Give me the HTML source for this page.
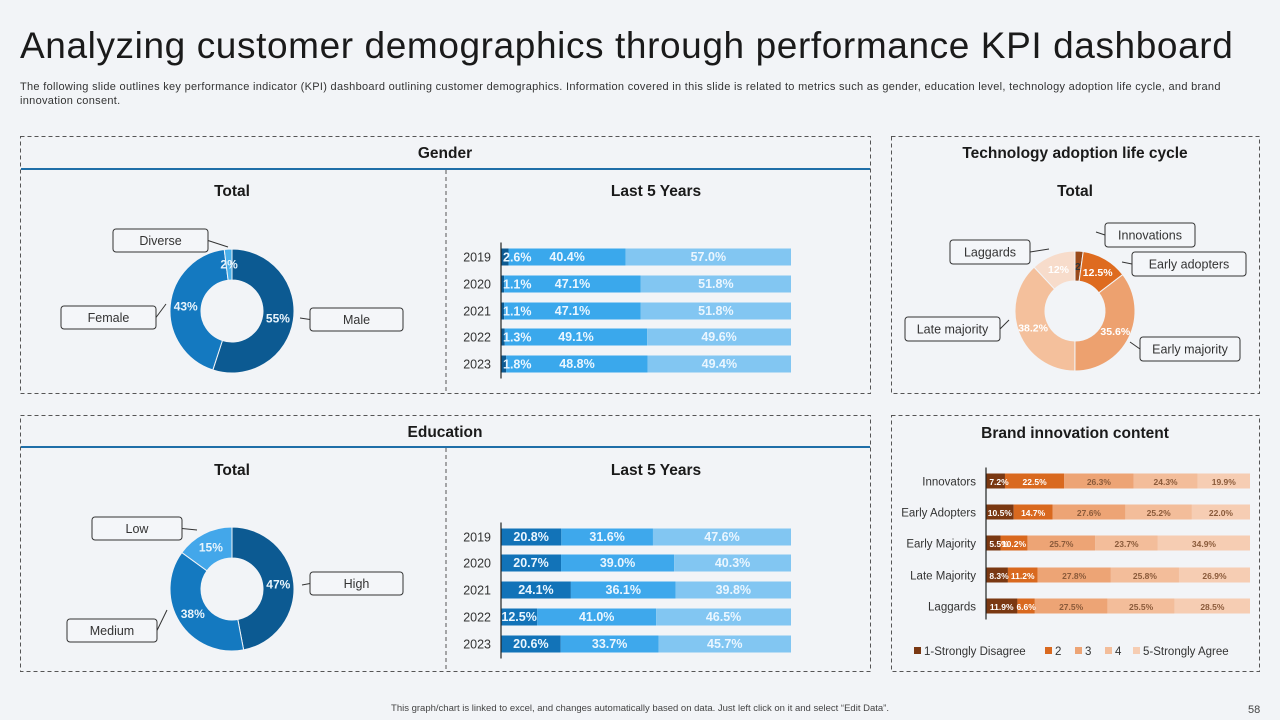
<!DOCTYPE html>
<html><head><meta charset="utf-8">
<style>
body{margin:0;width:1280px;height:720px;background:#f2f4f7;font-family:"Liberation Sans",sans-serif;overflow:hidden;position:relative}
.t{position:absolute;left:20px;top:25px;font-size:37px;color:#1a1a1a;letter-spacing:0.6px;white-space:nowrap}
.s{position:absolute;left:20px;top:80px;width:1245px;font-size:11px;letter-spacing:0.3px;color:#333;line-height:14px}
.f{position:absolute;top:703px;left:0;width:1280px;text-align:center;font-size:9.5px;color:#444}
.pn{position:absolute;top:704px;left:1248px;font-size:11px;color:#444}
svg{position:absolute;left:0;top:0}
</style></head><body>
<div class="t">Analyzing customer demographics through performance KPI dashboard</div>
<div class="s">The following slide outlines key performance indicator (KPI) dashboard outlining customer demographics. Information covered in this slide is related to metrics such as gender, education level, technology adoption life cycle, and brand innovation consent.</div>
<div class="f">This graph/chart is linked to excel, and changes automatically based on data. Just left click on it and select “Edit Data”.</div>
<div class="pn">58</div>
<svg id="c" width="1280" height="720" font-family="Liberation Sans, sans-serif"></svg>
<script>
// Data
const genderLabels=["Male","Female","Diverse"];
const genderTotal=[55,43,2];
const years=["2019","2020","2021","2022","2023"];
const genderDiverse=[2.6,1.1,1.1,1.3,1.8];
const genderFemale=[40.4,47.1,47.1,49.1,48.8];
const genderMale=[57.0,51.8,51.8,49.6,49.4];
const eduLabels=["High","Medium","Low"];
const eduTotal=[47,38,15];
const eduHigh=[20.8,20.7,24.1,12.5,20.6];
const eduMed=[31.6,39.0,36.1,41.0,33.7];
const eduLow=[47.6,40.3,39.8,46.5,45.7];
const techLabels=["Innovations","Early adopters","Early majority","Late majority","Laggards"];
const techTotal=[2.2,12.5,35.6,38.2,12];
const techText=["2.2%","12.5%","35.6%","38.2%","12%"];
const brandCats=["Innovators","Early Adopters","Early Majority","Late Majority","Laggards"];
const brand1=[7.2,10.5,5.5,8.3,11.9];
const brand2=[22.5,14.7,10.2,11.2,6.6];
const brand3=[26.3,27.6,25.7,27.8,27.5];
const brand4=[24.3,25.2,23.7,25.8,25.5];
const brand5=[19.9,22.0,34.9,26.9,28.5];
const brandLegend=["1-Strongly Disagree","2","3","4","5-Strongly Agree"];

const svg=document.getElementById('c');
const NS="http://www.w3.org/2000/svg";
function el(tag,attrs,parent){const e=document.createElementNS(NS,tag);for(const k in attrs)e.setAttribute(k,attrs[k]);(parent||svg).appendChild(e);return e;}
function txt(x,y,s,size,fill,anchor,weight){const e=el('text',{x:x,y:y,'font-size':size,fill:fill,'text-anchor':anchor||'start','font-weight':weight||'normal'});e.textContent=s;return e;}

// Panels
function panel(x,y,w,h,name){const r=el('rect',{x:x,y:y,width:w,height:h,fill:'none',stroke:'#555','stroke-dasharray':'4,3','stroke-width':1});

}
panel(20.5,136.5,850,257,'gender-panel');
panel(891.5,136.5,368,257,'tech-panel');
panel(20.5,415.5,850,256,'education-panel');
panel(891.5,415.5,368,256,'brand-panel');
el('line',{x1:21,y1:169,x2:870,y2:169,stroke:'#1f6fa8','stroke-width':2});
el('line',{x1:21,y1:447,x2:870,y2:447,stroke:'#1f6fa8','stroke-width':2});
el('line',{x1:446,y1:170,x2:446,y2:393,stroke:'#555','stroke-dasharray':'4,3'});
el('line',{x1:446,y1:448,x2:446,y2:671,stroke:'#555','stroke-dasharray':'4,3'});
[[445,158,'Gender','gender-title'],[1075,158,'Technology adoption life cycle','tech-title'],[445,437,'Education','education-title'],[1075,438,'Brand innovation content','brand-title'],
 [232,196,'Total','gender-total-title'],[656,196,'Last 5 Years','gender-years-title'],[1075,196,'Total','tech-total-title'],
 [232,475,'Total','education-total-title'],[656,475,'Last 5 Years','education-years-title']].forEach(a=>{const t=txt(a[0],a[1],a[2],15.5,'#1a1a1a','middle','bold');

});

// Donut
function donut(cx,cy,R,r,vals,colors,labels,labelColors,name,sizes){
 const tot=vals.reduce((a,b)=>a+b,0);let a0=-Math.PI/2;
 vals.forEach((v,i)=>{const a1=a0+v/tot*2*Math.PI;const lg=(a1-a0)>Math.PI?1:0;
  const p=(a,rr)=>[cx+rr*Math.cos(a),cy+rr*Math.sin(a)];
  const [x0,y0]=p(a0,R),[x1,y1]=p(a1,R),[x2,y2]=p(a1,r),[x3,y3]=p(a0,r);
  const s=el('path',{d:`M${x0},${y0}A${R},${R} 0 ${lg} 1 ${x1},${y1}L${x2},${y2}A${r},${r} 0 ${lg} 0 ${x3},${y3}Z`,fill:colors[i],stroke:'#f2f4f7','stroke-width':1});
  
  
  const m=(a0+a1)/2;const [lx,ly]=p(m,(R+r)/2);
  txt(lx,ly+4,labels[i],sizes||12,labelColors[i],'middle','bold');
  a0=a1;});
}
donut(232,311,62,31,genderTotal,['#0c5a92','#1479c0','#4ab0ea'],genderTotal.map(v=>v+'%'),['#e8f4fc','#e8f4fc','#e8f4fc'],'gender-donut');
donut(232,589,62,31,eduTotal,['#0c5a92','#1479c0','#43a7ea'],eduTotal.map(v=>v+'%'),['#e8f4fc','#e8f4fc','#e8f4fc'],'education-donut');
donut(1075,311,60,30,techTotal,['#9a4a1a','#de6b1f','#eda16f','#f4c09c','#f7dccb'],techText,['#333','#fff','#fff','#fff','#fff'],'tech-donut',10.5);

// Callouts
function callout(x,y,w,h,label,tx,ty,name){
 const g=el('g',{});
 el('rect',{x:x,y:y,width:w,height:h,rx:3,fill:'#f4f6f9',stroke:'#333','stroke-width':1},g);
 el('line',{x1:tx,y1:ty,x2:(tx<x?x:(tx>x+w?x+w:x+w/2)),y2:y+h/2,stroke:'#333','stroke-width':1},g);
 const t=txt(x+w/2,y+h/2+4.5,label,12.5,'#333','middle');g.appendChild(t);
}
callout(113,229,95,23,'Diverse',228,247,'callout-diverse');
callout(61,306,95,23,'Female',166,304,'callout-female');
callout(310,308,93,23,'Male',300,318,'callout-male');
callout(92,517,90,23,'Low',197,530,'callout-low');
callout(310,572,93,23,'High',302,585,'callout-high');
callout(67,619,90,23,'Medium',167,610,'callout-medium');
callout(1105,223,90,24,'Innovations',1096,232,'callout-innovations');
callout(1132,252,114,24,'Early adopters',1122,262,'callout-early-adopters');
callout(950,240,80,24,'Laggards',1049,249,'callout-laggards');
callout(905,317,95,24,'Late majority',1009,320,'callout-late-majority');
callout(1140,337,100,24,'Early majority',1130,342,'callout-early-majority');

// Stacked bars
function stacked(x0,W,yc,h,cats,series,colors,textColors,name,fs,catX,catSize,fmt){
 const x=v=>x0+v/100*W;
 cats.forEach((c,i)=>{let acc=0;const tot=series.reduce((s,a)=>s+a[i],0);
  txt(catX,yc[i]+4.5,c,catSize,'#333','end');
  series.forEach((s,j)=>{const v=s[i]/tot*100;const r=el('rect',{x:x(acc),y:yc[i]-h/2,width:x(acc+v)-x(acc),height:h,fill:colors[j]});
   
   
   acc+=v;});
  acc=0;series.forEach((s,j)=>{const v=s[i]/tot*100;
   if(j==0&&fmt==='g'){txt(x0+2,yc[i]+4.5,s[i].toFixed(1)+'%',fs,textColors[j],'start','bold');}
   else{const lx=j==0?x(acc)+Math.max(x(acc+v)-x(acc),26)/2:x(acc+v/2);
   txt(lx,yc[i]+4,s[i].toFixed(1)+'%',fs,textColors[j],'middle','bold');}
   acc+=v;});
 });
 el('line',{x1:x0,y1:yc[0]-h/2-6,x2:x0,y2:yc[yc.length-1]+h/2+6,stroke:'#222','stroke-width':1.2});
}
stacked(501,290,[257,284,311,337,364],17,years,[genderDiverse,genderFemale,genderMale],['#0c5a92','#3aa8ec','#82c6f2'],['#eaf6ff','#eaf6ff','#eaf6ff'],'gender-bar',12.5,491,12.5,'g');
stacked(501,290,[537,563,590,617,644],17,years,[eduHigh,eduMed,eduLow],['#1273b8','#3ea8ec','#82c6f2'],['#eaf6ff','#eaf6ff','#eaf6ff'],'education-bar',12.5,491,12.5);
stacked(986,264,[481,512,543,575,606],15,brandCats,[brand1,brand2,brand3,brand4,brand5],['#7a3812','#d9691f','#eda475','#f3bd9a','#f6cdb3'],['#fff','#fff','#8a5a3a','#8a5a3a','#8a5a3a'],'brand-bar',8.5,976,11.5);

// Brand legend
const lgColors=['#7a3812','#d9691f','#eda475','#f3bd9a','#f6cdb3'];
const lgX=[914,1045,1075,1105,1133];
brandLegend.forEach((l,i)=>{const g=el('g',{});
 
 
 el('rect',{x:lgX[i],y:647,width:7,height:7,fill:lgColors[i]},g);
 g.appendChild(txt(lgX[i]+10,655,l,11.5,'#333'));});
</script>
</body></html>
